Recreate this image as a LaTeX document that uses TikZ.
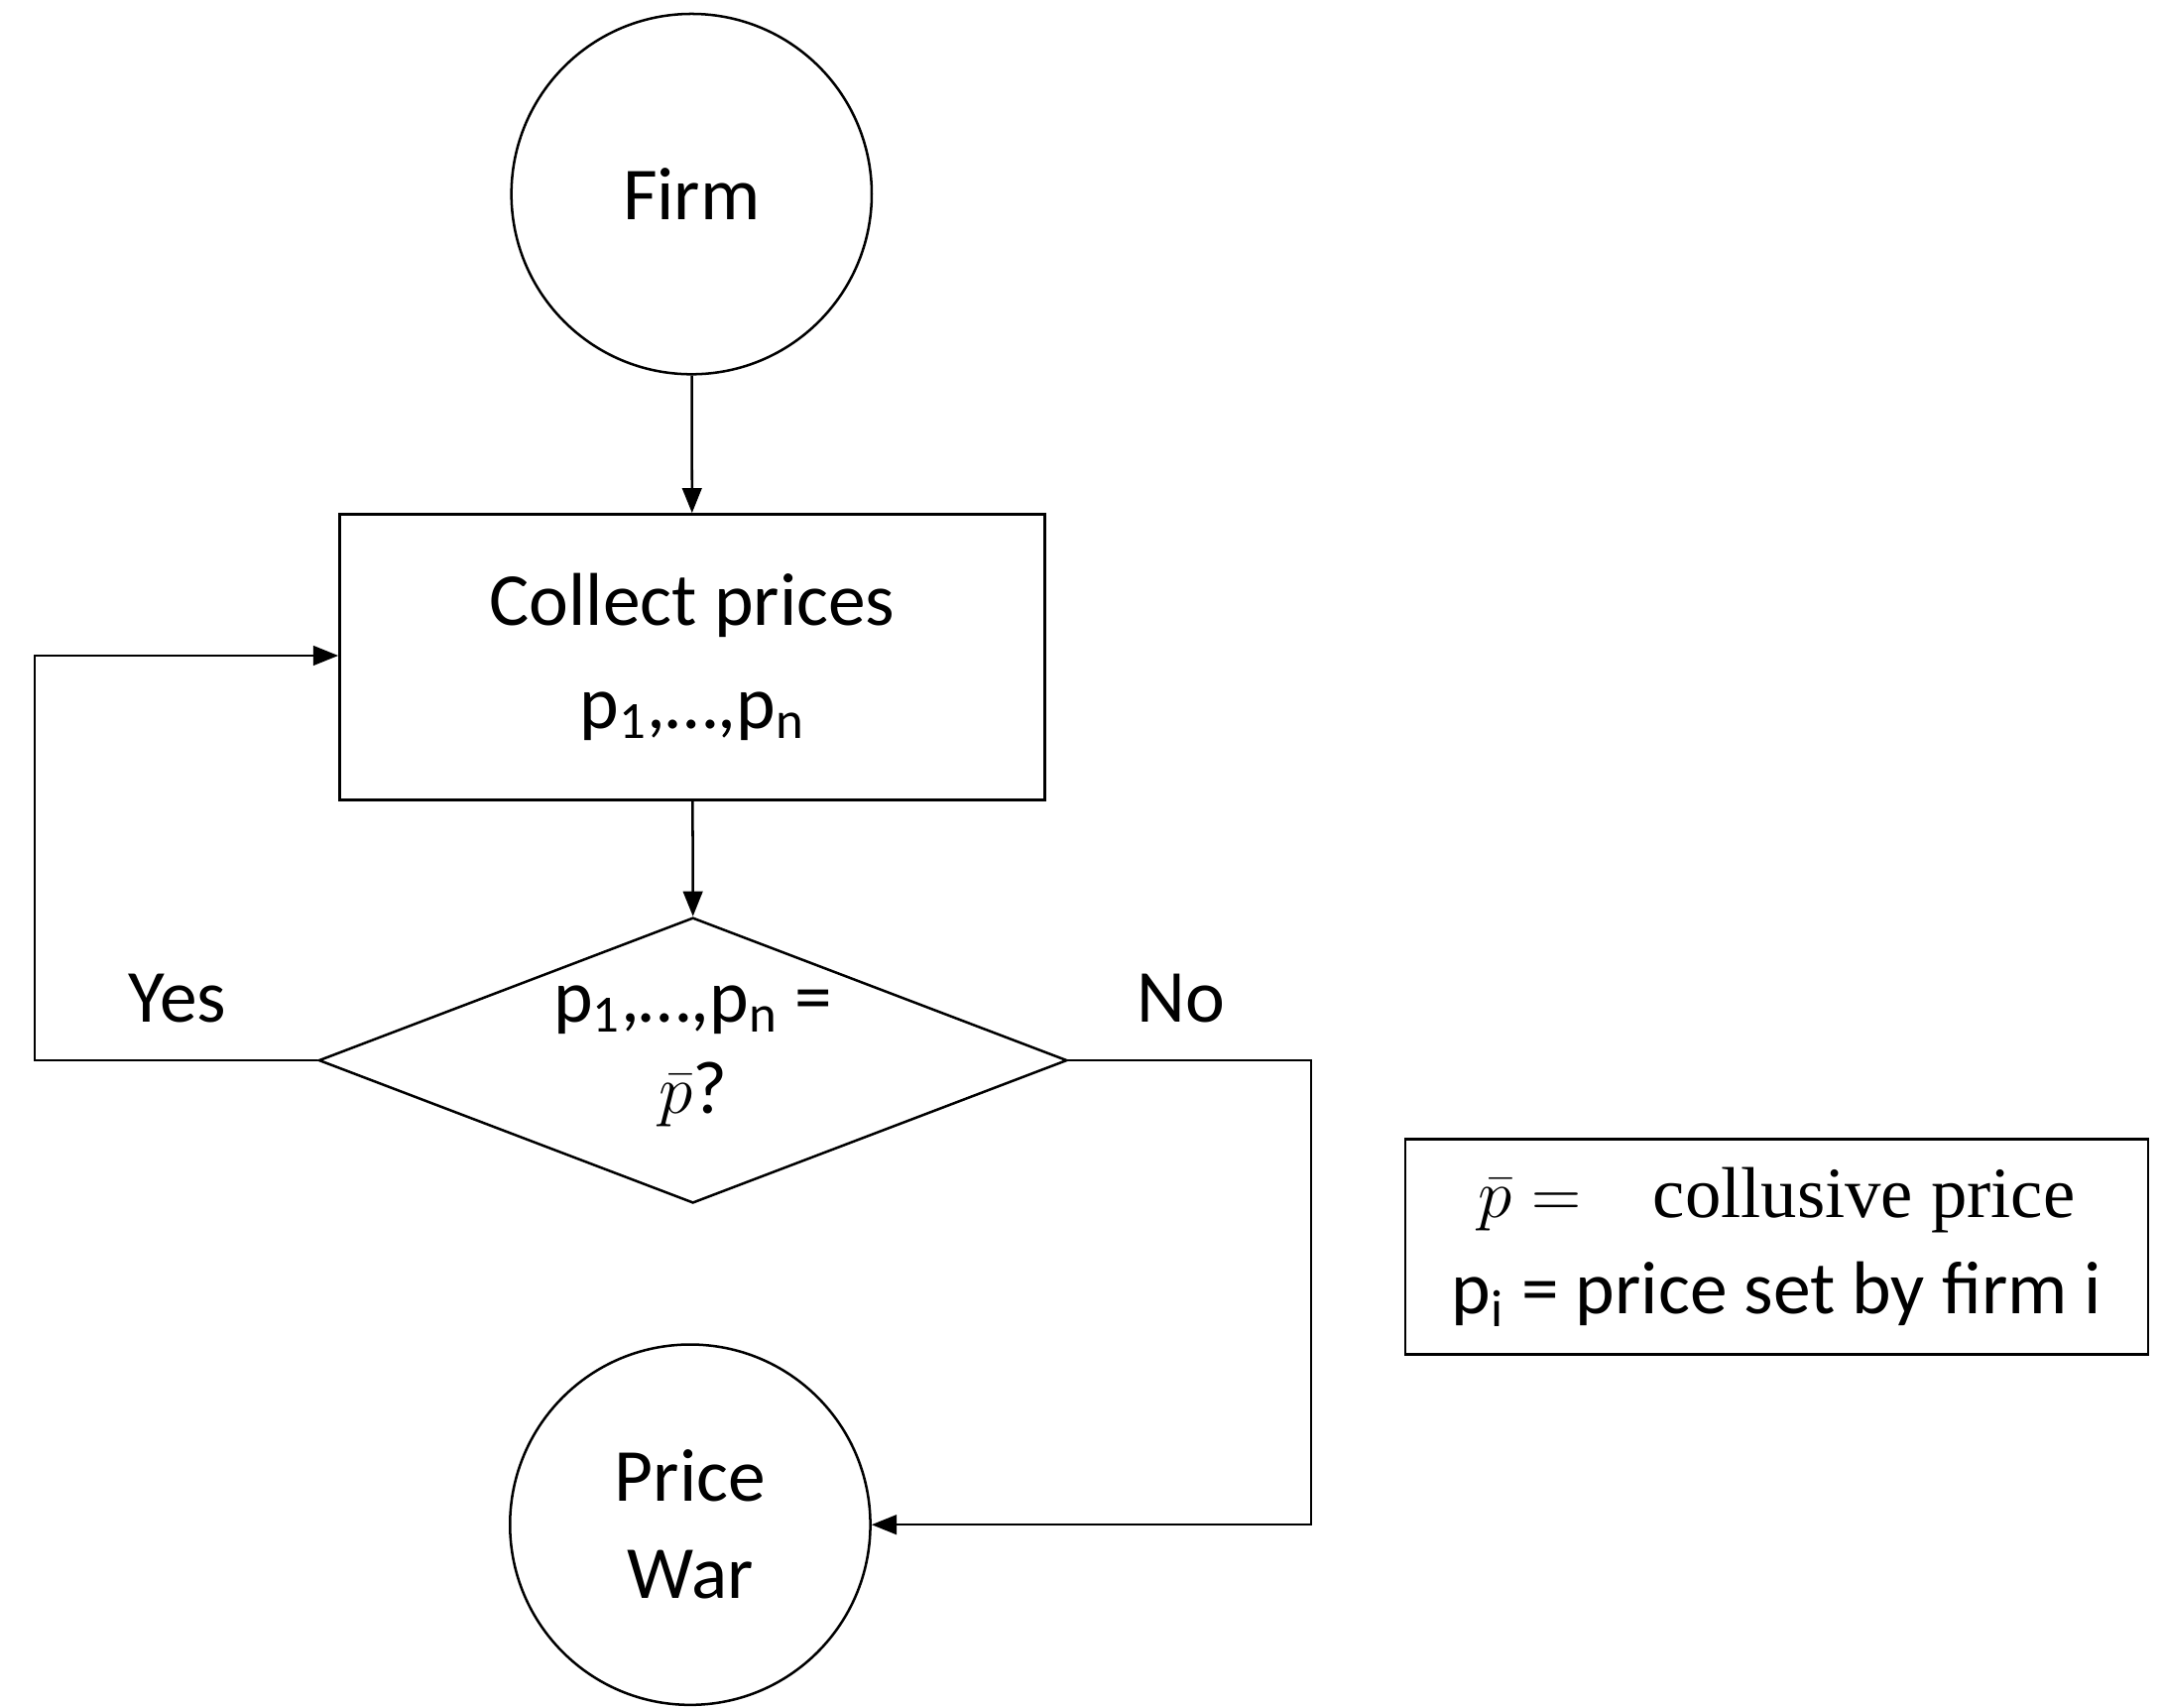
\documentclass[tikz,border=0pt]{standalone}
\usepackage{fontspec}
\setmainfont{Carlito}
\newfontfamily\serifx{Liberation Serif}
\usetikzlibrary{shapes.geometric,arrows.meta}
\begin{document}
\begin{tikzpicture}[x=0.5pt,y=-0.5pt,
  every node/.style={font=\fontsize{27}{33}\selectfont},
  ln/.style={draw, line width=0.9pt},
  arr/.style={ln,-{Triangle[length=9pt,width=7pt]}}]
\useasboundingbox (0,0) rectangle (1560,1232);
\node[circle, ln, minimum size=130pt, inner sep=0] (firm) at (499,140) {Firm};
\node[rectangle, ln, minimum width=254.5pt, minimum height=103pt, align=center] (rect) at (499.5,474) {Collect prices\\[4pt]p\textsubscript{1},…,p\textsubscript{n}};
\node[diamond, ln, minimum width=270pt, minimum height=103pt, inner sep=0, align=center] (dia) at (500,765) {};
\node (diat) at (500,762) [align=center] {p\textsubscript{1},…,p\textsubscript{n} =\\$\bar{p}$?};
\node[circle, ln, minimum size=130pt, inner sep=0, align=center] (war) at (498,1100) {Price\\[2pt]War};
\coordinate (y1) at (25,765);
\coordinate (y2) at (25,473);
\coordinate (n1) at (946,765);
\coordinate (n2) at (946,1100);
\draw[arr] (firm) -- (rect);
\draw[arr] (rect) -- (dia.north);
\draw[arr] (dia.west) -- (y1) -- (y2) -- (rect.west |- y2);
\draw[arr] (dia.east) -- (n1) -- (n2) -- (war.east);
\node (yes) at (128,720) {Yes};
\node (no) at (852,720) {No};
\node[rectangle, ln, minimum width=268pt, minimum height=77.5pt, align=center, inner sep=0] (leg) at (1282,899.5) {{\serifx\fontsize{26}{30}\selectfont$\bar{p}=$\quad collusive price}\\[2pt] p\textsubscript{i} = price set by firm i};
\end{tikzpicture}
\end{document}
